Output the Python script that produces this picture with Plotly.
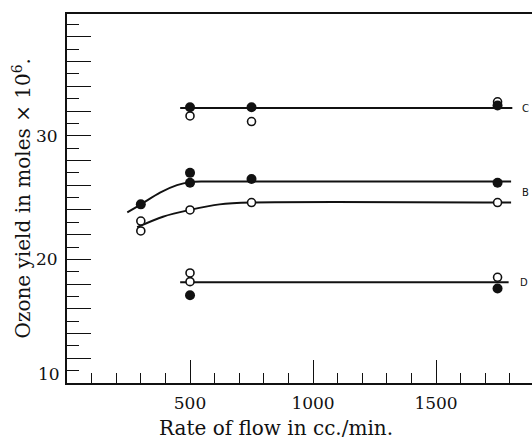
import plotly.graph_objects as go

# ---- data ----
c_fill_x = [500, 750, 1750]
c_fill_y = [32.3, 32.3, 32.45]
c_open_x = [500, 750, 1750]
c_open_y = [31.6, 31.15, 32.75]
c_line_x = [460, 1810]
c_line_y = [32.25, 32.25]

b_fill_x = [300, 500, 500, 750, 1750]
b_fill_y = [24.45, 27.0, 26.2, 26.5, 26.2]
b_open_x = [300, 300, 500, 750, 1750]
b_open_y = [23.1, 22.3, 24.0, 24.6, 24.6]
b_upper_x = [245, 300, 378, 447, 500, 560, 1805]
b_upper_y = [23.8, 24.45, 25.4, 26.0, 26.25, 26.3, 26.3]
b_lower_x = [285, 390, 500, 620, 750, 1805]
b_lower_y = [22.6, 23.45, 24.0, 24.45, 24.6, 24.6]

d_fill_x = [500, 1750]
d_fill_y = [17.1, 17.65]
d_open_x = [500, 500, 1750]
d_open_y = [18.9, 18.2, 18.55]
d_line_x = [460, 1795]
d_line_y = [18.15, 18.15]

curve_labels = ["C", "B", "D"]
label_x = [1862, 1862, 1858]
label_y = [32.2, 25.4, 18.1]

x_major = [500, 1000, 1500]
y_major = [12, 14, 16, 18, 20, 22, 24, 26, 28, 30, 32, 34, 36, 38]
y_labels = {20: "20", 30: "30"}

INK = "#111111"
SERIF = "DejaVu Serif"

fig = go.Figure()

def line(x, y, shape="linear"):
    fig.add_trace(go.Scatter(x=x, y=y, mode="lines", line=dict(color=INK, width=1.9, shape=shape, smoothing=0.8),
                             hoverinfo="skip", showlegend=False))

def filled(x, y):
    fig.add_trace(go.Scatter(x=x, y=y, mode="markers",
                             marker=dict(size=10, color=INK, line=dict(width=0)),
                             showlegend=False, cliponaxis=False))

def opened(x, y):
    fig.add_trace(go.Scatter(x=x, y=y, mode="markers",
                             marker=dict(size=8, color="white", line=dict(width=1.6, color=INK)),
                             showlegend=False, cliponaxis=False))

line(c_line_x, c_line_y)
line(b_upper_x, b_upper_y, "spline")
line(b_lower_x, b_lower_y, "spline")
line(d_line_x, d_line_y)
opened(c_open_x, c_open_y)
filled(c_fill_x, c_fill_y)
opened(b_open_x, b_open_y)
filled(b_fill_x, b_fill_y)
opened(d_open_x, d_open_y)
filled(d_fill_x, d_fill_y)

annotations = []
for t, x, y in zip(curve_labels, label_x, label_y):
    annotations.append(dict(x=x, y=y, xref="x", yref="y", text=t, showarrow=False,
                            font=dict(family="DejaVu Sans", size=10, color=INK), xanchor="center"))

# bottom "10" tick label sits a little above the axis in the reference
annotations.append(dict(x=0, y=10.75, xref="paper", yref="y", text="10", showarrow=False,
                        xanchor="right", yanchor="middle", xshift=-5,
                        font=dict(family=SERIF, size=17, color=INK)))
annotations.append(dict(x=850, y=0, xref="x", yref="paper", text="Rate of flow in cc./min.",
                        showarrow=False, xanchor="center", yanchor="top", yshift=-31,
                        font=dict(family=SERIF, size=20, color=INK)))
annotations.append(dict(x=0, y=0.5, xref="paper", yref="paper",
                        text="Ozone yield in moles × 10<sup>6</sup>.", textangle=-90,
                        showarrow=False, xanchor="center", yanchor="middle", xshift=-46,
                        font=dict(family=SERIF, size=20, color=INK)))

fig.update_layout(
    width=532, height=439,
    margin=dict(l=67, r=0, t=14, b=56),
    paper_bgcolor="white", plot_bgcolor="white",
    font=dict(family=SERIF, size=17, color=INK),
    annotations=annotations,
    xaxis=dict(range=[0, 1890], tickmode="array", tickvals=x_major,
               ticktext=[str(v) for v in x_major],
               ticks="inside", ticklen=23, tickwidth=1.3, tickcolor=INK,
               showline=True, linecolor=INK, linewidth=2, mirror=True,
               showgrid=False, zeroline=False, ticklabelstandoff=4,
               minor=dict(dtick=100, tick0=0, ticks="inside", ticklen=10, tickwidth=1.3, tickcolor=INK,
                          showgrid=False)),
    yaxis=dict(range=[10, 39.85], tickmode="array", tickvals=y_major,
               ticktext=[y_labels.get(v, "") for v in y_major],
               ticks="inside", ticklen=24, tickwidth=1.3, tickcolor=INK,
               showline=True, linecolor=INK, linewidth=2,
               showgrid=False, zeroline=False, ticklabelstandoff=4,
               minor=dict(dtick=1, tick0=10, ticks="inside", ticklen=12, tickwidth=1.3, tickcolor=INK,
                          showgrid=False)),
)

fig.write_html("out.html", config={"displayModeBar": False},
               post_script="document.body.style.margin='0';document.body.style.overflow='hidden';")
